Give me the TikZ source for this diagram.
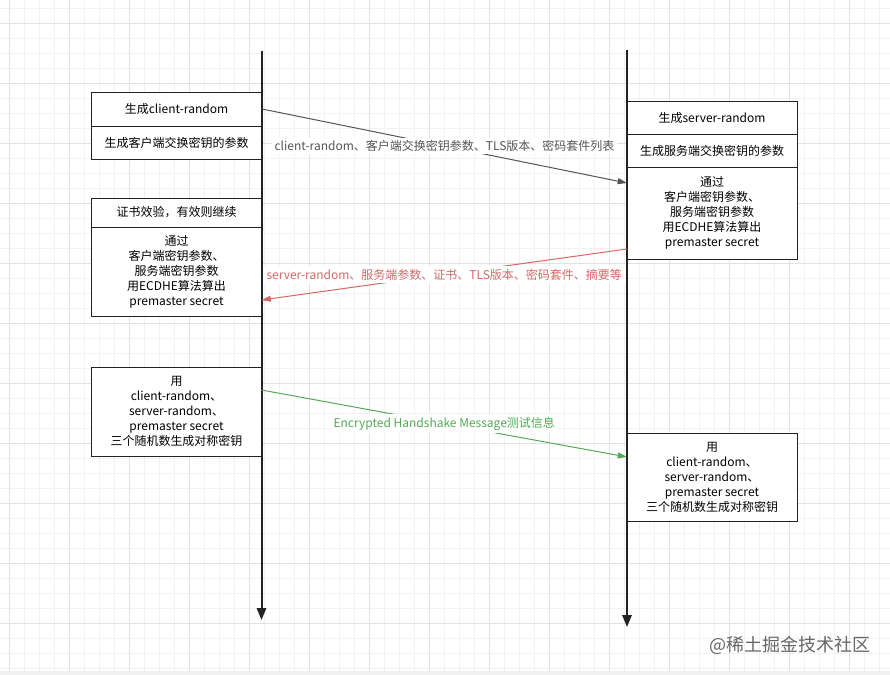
\documentclass[tikz,border=0pt]{standalone}
\usepackage{fontspec}
\setmainfont{Noto Sans CJK SC}
\usetikzlibrary{arrows.meta}
\definecolor{lifegray}{RGB}{34,34,34}
\definecolor{msgdark}{RGB}{85,85,85}
\definecolor{msgred}{RGB}{212,104,104}
\definecolor{msggreen}{RGB}{84,170,84}
\definecolor{gridminor}{RGB}{242,242,242}
\definecolor{gridmajor}{RGB}{226,226,226}

\tikzset{
  part/.style={draw=lifegray, fill=white, line width=0.75pt, inner sep=0pt,
    align=center, minimum width=127.5pt, font=\fontsize{9}{11.25}\selectfont},
  lifeline/.style={draw=lifegray, line width=1.5pt, -{Triangle[length=9pt,width=7pt]}},
  msg/.style={line width=0.75pt, -{Triangle[length=7pt,width=4.5pt]}},
  msglabel/.style={fill=white, inner sep=2pt, font=\fontsize{9}{11.25}\selectfont},
}

\begin{document}
\begin{tikzpicture}[x=0.75pt, y=-0.75pt]
    \useasboundingbox (0,0) rectangle (890,675);
    % grid
    \foreach \x in {9,24,...,889} \draw[gridminor, line width=0.6pt] (\x,0) -- (\x,675);
    \foreach \y in {8,23,...,668} \draw[gridminor, line width=0.6pt] (0,\y) -- (890,\y);
    \foreach \x in {9,69,...,889} \draw[gridmajor, line width=0.6pt] (\x,0) -- (\x,675);
    \foreach \y in {23,83,...,668} \draw[gridmajor, line width=0.6pt] (0,\y) -- (890,\y);
    \fill[black!6] (0,671) rectangle (890,675);

    % client side
    \node[part, minimum height=25.5pt] (cRand) at (176.5,109) {生成client-random};
    \node[part, minimum height=24.75pt] (cParam) at (176.5,142.5) {生成客户端交换密钥的参数};
    \node[part, minimum height=21.75pt] (cCheck) at (176.5,212.5) {证书效验，有效则继续};
    \node[part, minimum height=66.75pt] (cCalc) at (176.5,271.5) {通过\\客户端密钥参数、\\服务端密钥参数\\用ECDHE算法算出\\premaster secret};
    \node[part, minimum height=66.75pt] (cKey) at (176.5,411.5) {用\\client-random、\\server-random、\\premaster secret\\三个随机数生成对称密钥};

    % server side
    \node[part, minimum height=24.75pt] (sRand) at (712,117.5) {生成server-random};
    \node[part, minimum height=24.75pt] (sParam) at (712,150.5) {生成服务端交换密钥的参数};
    \node[part, minimum height=69pt] (sCalc) at (712,213) {通过\\客户端密钥参数、\\服务端密钥参数\\用ECDHE算法算出\\premaster secret};
    \node[part, minimum height=66pt] (sKey) at (712,477) {用\\client-random、\\server-random、\\premaster secret\\三个随机数生成对称密钥};

    % lifelines
    \coordinate (cTop) at (261.5,51);
    \coordinate (cBot) at (261.5,620);
    \coordinate (sTop) at (627,50);
    \coordinate (sBot) at (627,627);
    \draw[lifeline] (cTop) -- (cBot);
    \draw[lifeline] (sTop) -- (sBot);

    % messages
    \coordinate (m1end) at (627,183);
    \coordinate (m2start) at (627,249);
    \coordinate (m2end) at (261.5,300);
    \coordinate (m3start) at (261.5,390);
    \coordinate (m3end) at (627,457);
    \draw[msg, msgdark] (cRand.east) -- (m1end)
        node[msglabel, midway, text=msgdark] (m1) {client-random、客户端交换密钥参数、TLS版本、密码套件列表};
    \draw[msg, msgred] (m2start) -- (m2end)
        node[msglabel, midway, text=msgred] (m2) {server-random、服务端参数、证书、TLS版本、密码套件、摘要等};
    \draw[msg, msggreen] (m3start) -- (m3end)
        node[msglabel, midway, text=msggreen] (m3) {Encrypted Handshake Message测试信息};

    \node[font=\fontsize{13.5}{16}\selectfont, text=black!60] (mark) at (790,645) {@稀土掘金技术社区};
\end{tikzpicture}
\end{document}
